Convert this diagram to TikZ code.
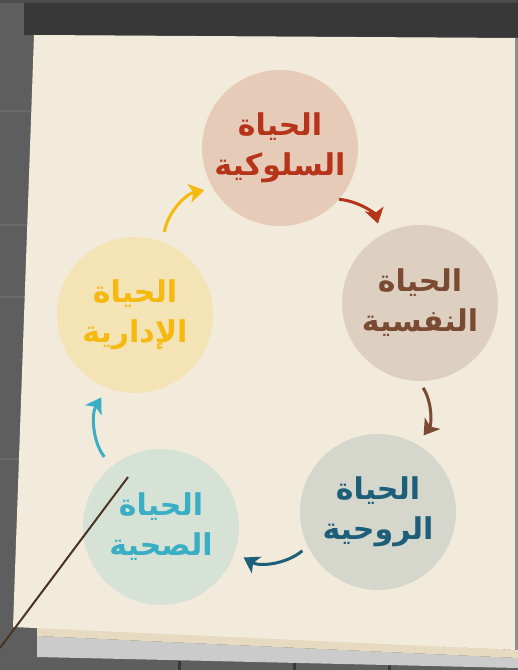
\documentclass[tikz,border=0pt]{standalone}
\usepackage{fontspec}
\usetikzlibrary{arrows.meta}
\TeXXeTstate=1
\newfontfamily\arabicfont[Script=Arabic]{DejaVu Sans}
\definecolor{wall}{HTML}{5E5E5E}
\definecolor{wallline}{HTML}{6A6A6A}
\definecolor{barc}{HTML}{383838}
\definecolor{paper}{HTML}{F2EADB}
\definecolor{paperedge}{HTML}{E6DAC0}
\definecolor{ledge}{HTML}{CBCBCB}
\definecolor{stick}{HTML}{4B3324}
\definecolor{c1f}{HTML}{E6CBB8}\definecolor{c1t}{HTML}{B5341A}
\definecolor{c2f}{HTML}{DDD0C0}\definecolor{c2t}{HTML}{7A4A32}
\definecolor{c3f}{HTML}{D5D6CC}\definecolor{c3t}{HTML}{1D5E78}
\definecolor{c4f}{HTML}{D6E2D6}\definecolor{c4t}{HTML}{3AAEC4}
\definecolor{c5f}{HTML}{F4E3B5}\definecolor{c5t}{HTML}{F5B90F}
\tikzset{
  lifecircle/.style={circle,minimum size=156pt,inner sep=0pt,align=center,
    font=\arabicfont\bfseries\fontsize{30}{40}\selectfont},
  cyclearrow/.style={line width=3pt,-{Stealth[length=15pt,width=19pt,inset=4pt]},bend left=35}
}
\begin{document}
\begin{tikzpicture}[x=1pt,y=1pt]
\useasboundingbox (0,0) rectangle (518,670);
% wall
\fill[wall] (0,0) rectangle (518,670);
\fill[wallline!120] (0,667) rectangle (518,670);
\foreach \yy in {558,444,372,210}{\fill[wallline] (0,\yy) rectangle (34,\yy+2);}
\foreach \xx in {178,293,388}{\fill[barc] (\xx,0) rectangle (\xx+3,9);}
% top bar
\fill[barc] (24,667) -- (518,667) -- (518,632) -- (24,635) -- cycle;
% ledge under paper
\fill[ledge] (37,34) -- (518,12) -- (518,2) -- (37,13) -- cycle;
\fill[paperedge] (37,44) -- (518,20) -- (518,12) -- (37,34) -- cycle;
% paper
\fill[paper] (34,635) -- (516,632) -- (516,20) -- (13,43) -- cycle;
\fill[wall!70] (515,632) rectangle (518,20);
% circles
\node[lifecircle,fill=c1f,text=c1t] (top) at (280,522) {\beginR الحياة\endR\\\beginR السلوكية\endR};
\node[lifecircle,fill=c2f,text=c2t] (right) at (420,367) {\beginR الحياة\endR\\\beginR النفسية\endR};
\node[lifecircle,fill=c3f,text=c3t] (bright) at (378,158) {\beginR الحياة\endR\\\beginR الروحية\endR};
\node[lifecircle,fill=c4f,text=c4t] (bleft) at (161,143) {\beginR الحياة\endR\\\beginR الصحية\endR};
\node[lifecircle,fill=c5f,text=c5t] (left) at (135,355) {\beginR الحياة\endR\\\beginR الإدارية\endR};
% arrows
\draw[cyclearrow,c1t,shorten >=12pt] (top.-41) to (right.120);
\draw[cyclearrow,c2t,shorten <=8pt,shorten >=11pt] (right.-91) to (bright.60);
\draw[cyclearrow,c3t,shorten <=7pt,shorten >=10pt] (bright.206) to (bleft.-19);
\draw[cyclearrow,c4t,shorten <=12pt,shorten >=11pt] (bleft.129) to (left.249);
\draw[cyclearrow,c5t,shorten <=10pt,shorten >=9pt] (left.69) to (top.211);
% pointer stick
\coordinate (stickend) at (0,22);
\draw[stick,line width=2pt] (128,193) -- (stickend);
\end{tikzpicture}
\end{document}
